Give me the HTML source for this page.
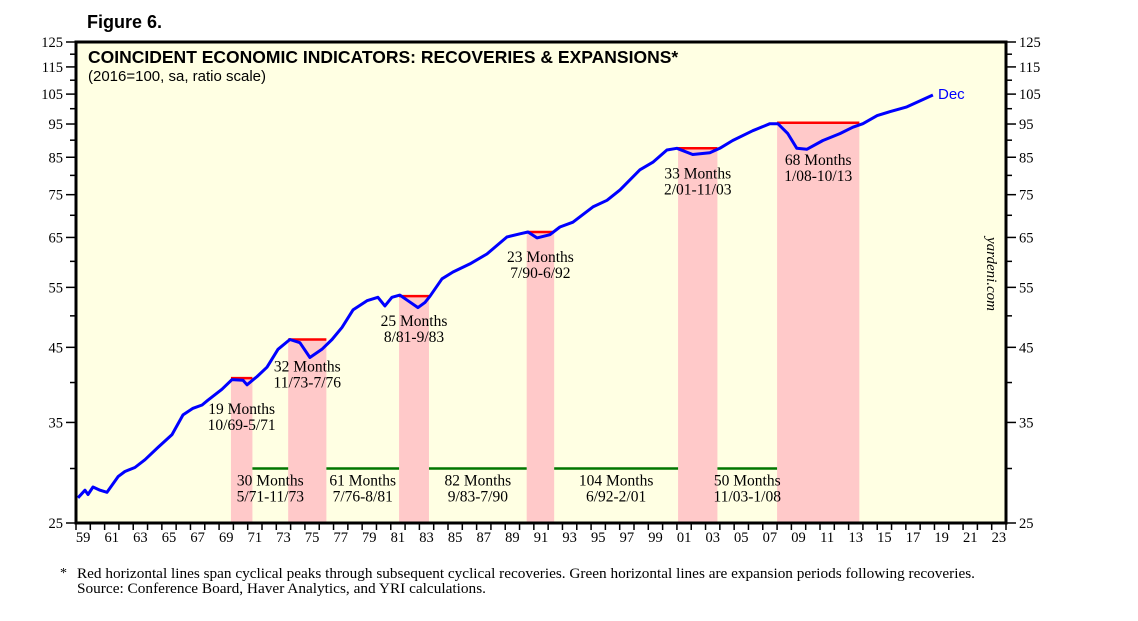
<!DOCTYPE html>
<html><head><meta charset="utf-8"><style>
body{margin:0;background:#fff;width:1138px;height:621px;overflow:hidden}
svg{display:block}
</style></head><body>
<svg id="c" width="1138" height="621" xmlns="http://www.w3.org/2000/svg">
<text x="87" y="28" font-family="Liberation Sans, sans-serif" font-weight="bold" font-size="18">Figure 6.</text>
<rect x="76" y="42" width="930" height="481" fill="#FFFFE3"/>
<g id="bands"></g>
<g id="lines"></g>
<g id="series"></g>
<rect x="76" y="42" width="930" height="481" fill="none" stroke="#000" stroke-width="3"/>
<g id="axes" font-family="Liberation Serif, serif" font-size="14.5"></g>
<text x="88" y="63" font-family="Liberation Sans, sans-serif" font-weight="bold" font-size="17.5">COINCIDENT ECONOMIC INDICATORS: RECOVERIES &amp; EXPANSIONS*</text>
<text x="88" y="81" font-family="Liberation Sans, sans-serif" font-size="15">(2016=100, sa, ratio scale)</text>
<text x="938" y="99" font-family="Liberation Sans, sans-serif" font-size="15" fill="#0000FF">Dec</text>
<text transform="translate(987,237) rotate(90)" font-family="Liberation Serif, serif" font-style="italic" font-size="15">yardeni.com</text>
<text x="60" y="577" font-family="Liberation Serif, serif" font-size="14">*</text>
<text x="77" y="578" font-family="Liberation Serif, serif" font-size="14.5" textLength="898" lengthAdjust="spacingAndGlyphs">Red horizontal lines span cyclical peaks through subsequent cyclical recoveries. Green horizontal lines are expansion periods following recoveries.</text>
<text x="77" y="593" font-family="Liberation Serif, serif" font-size="14.5" textLength="409" lengthAdjust="spacingAndGlyphs">Source: Conference Board, Haver Analytics, and YRI calculations.</text>
</svg>
<script>
const dates=[1959.14,1959.63,1959.84,1960.19,1960.68,1961.17,1961.94,1962.42,1963.12,1963.82,1964.73,1965.71,1966.48,1967.18,1967.81,1968.22,1969.2,1969.9,1970.67,1970.95,1971.65,1972.35,1973.12,1973.95,1974.65,1975.35,1976.19,1976.89,1977.59,1978.36,1979.34,1980.1,1980.59,1981.08,1981.64,1982.2,1982.9,1983.39,1983.74,1984.58,1985.35,1986.53,1987.72,1989.12,1990.03,1990.59,1991.22,1992.12,1992.82,1993.73,1995.13,1996.11,1997.02,1998.41,1999.32,2000.3,2001.0,2002.1,2003.3,2004.0,2004.9,2006.3,2007.5,2008.06,2008.75,2009.38,2010.08,2011.2,2012.39,2013.3,2014.0,2015.0,2015.88,2017.07,2018.89];
const values=[27.2,27.9,27.5,28.2,27.9,27.7,29.2,29.7,30.1,30.9,32.2,33.6,35.9,36.7,37.1,37.7,39.1,40.4,40.3,39.7,40.8,42.1,44.7,46.2,45.7,43.5,44.7,46.2,48.1,51.0,52.6,53.2,51.7,53.2,53.6,52.6,51.4,52.3,53.4,56.6,57.9,59.5,61.5,65.1,65.8,66.2,64.9,65.6,67.3,68.4,72.0,73.6,76.2,81.5,83.6,87.1,87.6,85.8,86.3,87.6,89.9,92.9,95.1,95.1,92.0,87.6,87.3,89.9,92.0,94.0,95.1,97.7,99.0,100.6,104.7];
const recStart=[1969.83,1973.83,1981.58,1990.5,2001.08,2008.0];
const recEnd=[1971.33,1976.5,1983.67,1992.42,2003.83,2013.75];
const recLevel=[40.6,46.2,53.4,66.2,87.6,95.4];
const recMonths=["19 Months","32 Months","25 Months","23 Months","33 Months","68 Months"];
const recRange=["10/69-5/71","11/73-7/76","8/81-9/83","7/90-6/92","2/01-11/03","1/08-10/13"];
const expLevel=30.0;
const expMonths=["30 Months","61 Months","82 Months","104 Months","50 Months"];
const expRange=["5/71-11/73","7/76-8/81","9/83-7/90","6/92-2/01","11/03-1/08"];
const yTicks=[25,35,45,55,65,75,85,95,105,115,125];
const yMinor=[30,40,50,60,70,80,90,100,110,120];
const xLabels=["59","61","63","65","67","69","71","73","75","77","79","81","83","85","87","89","91","93","95","97","99","01","03","05","07","09","11","13","15","17","19","21","23"];

const X0=76,X1=1006,T0=1959,T1=2024,Y0=523,Y1=42,V0=25,V1=125;
const x=t=>X0+(t-T0)/(T1-T0)*(X1-X0);
const y=v=>Y0-Math.log(v/V0)/Math.log(V1/V0)*(Y0-Y1);
const NS="http://www.w3.org/2000/svg";
function mk(tag,attrs,parent,txt){const e=document.createElementNS(NS,tag);for(const k in attrs)e.setAttribute(k,attrs[k]);if(txt!==undefined)e.textContent=txt;parent.appendChild(e);return e;}
const bands=document.getElementById('bands'),lines=document.getElementById('lines'),ser=document.getElementById('series'),axes=document.getElementById('axes');
const F="Liberation Serif, serif";
const FS=15.5;
const offs=[36,32,30,30,30,42];
for(let i=0;i<recStart.length;i++){
  const r=mk('rect',{x:x(recStart[i]),y:y(recLevel[i]),width:x(recEnd[i])-x(recStart[i]),height:Y0-y(recLevel[i]),fill:'#FFC9C9'},bands);
  
  
  const l=mk('line',{x1:x(recStart[i]),x2:x(recEnd[i]),y1:y(recLevel[i]),y2:y(recLevel[i]),stroke:'#FF0000','stroke-width':2.5},lines);
  
  
  const cx=(x(recStart[i])+x(recEnd[i]))/2;
  const ly=y(recLevel[i])+offs[i];
  const t1=mk('text',{x:cx,y:ly,'text-anchor':'middle','font-family':F,'font-size':FS},lines,recMonths[i]);
  
  
  const t2=mk('text',{x:cx,y:ly+16,'text-anchor':'middle','font-family':F,'font-size':FS},lines,recRange[i]);
  
  
}
for(let i=0;i<expMonths.length;i++){
  const a=recEnd[i],b=recStart[i+1];
  const l=mk('line',{x1:x(a),x2:x(b),y1:y(expLevel),y2:y(expLevel),stroke:'#007700','stroke-width':2.5},lines);
  
  
  const cx=(x(a)+x(b))/2;
  const t1=mk('text',{x:cx,y:y(expLevel)+17,'text-anchor':'middle','font-family':F,'font-size':FS},lines,expMonths[i]);
  
  
  const t2=mk('text',{x:cx,y:y(expLevel)+33,'text-anchor':'middle','font-family':F,'font-size':FS},lines,expRange[i]);
  
  
}
const pts=dates.map((d,i)=>x(d).toFixed(1)+','+y(values[i]).toFixed(1)).join(' ');
const pl=mk('polyline',{points:pts,fill:'none',stroke:'#0000FF','stroke-width':3,'stroke-linejoin':'round'},ser);


yTicks.forEach(v=>{
  const yy=y(v);
  mk('line',{x1:66,x2:76,y1:yy,y2:yy,stroke:'#000','stroke-width':1.5},axes);
  mk('line',{x1:1006,x2:1016,y1:yy,y2:yy,stroke:'#000','stroke-width':1.5},axes);
  const a=mk('text',{x:63,y:yy+5,'text-anchor':'end'},axes,v);
  
  
  const b=mk('text',{x:1019,y:yy+5},axes,v);
  
  
});
yMinor.forEach(v=>{
  const yy=y(v);
  mk('line',{x1:70,x2:76,y1:yy,y2:yy,stroke:'#000','stroke-width':1.5},axes);
  mk('line',{x1:1006,x2:1012,y1:yy,y2:yy,stroke:'#000','stroke-width':1.5},axes);
});
for(let t=T0;t<=T1;t++){
  mk('line',{x1:x(t),x2:x(t),y1:523,y2:530,stroke:'#000','stroke-width':1.5},axes);
}
xLabels.forEach((s,i)=>{
  const t=mk('text',{x:x(T0+2*i+0.5),y:542,'text-anchor':'middle'},axes,s);
  
  
});
</script>
</body></html>
